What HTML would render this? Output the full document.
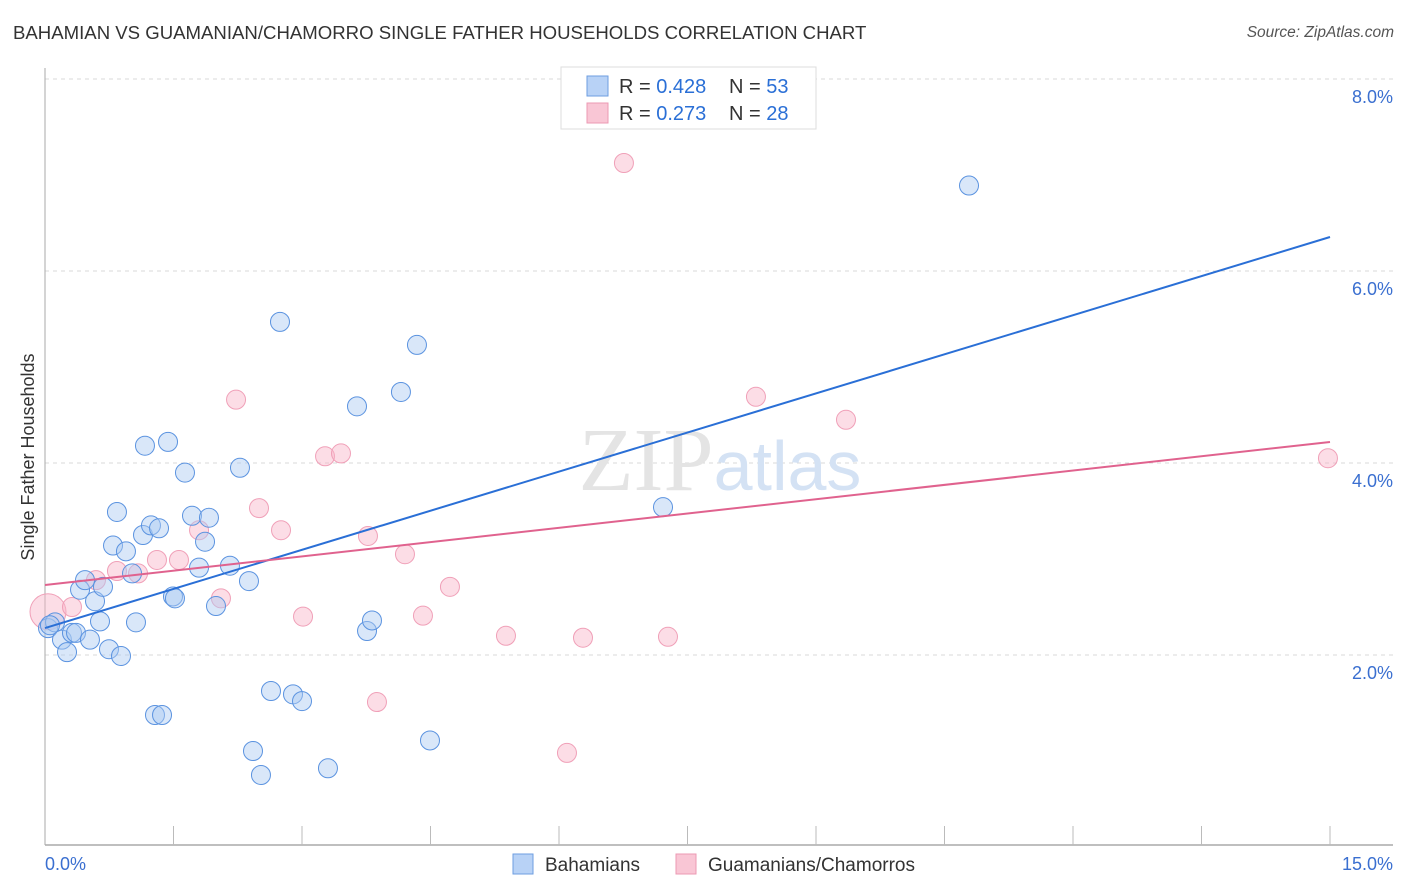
<!DOCTYPE html>
<html><head><meta charset="utf-8">
<style>
body{margin:0;background:#fff;font-family:"Liberation Sans",sans-serif;}
#wrap{position:relative;width:1406px;height:892px;overflow:hidden;}
.title{position:absolute;left:13px;top:22px;font-size:18.6px;color:#333;white-space:nowrap;}
.source{position:absolute;right:12px;top:24px;font-size:15.5px;color:#555;font-style:italic;}
</style></head><body>
<div id="wrap">
<div class="title">BAHAMIAN VS GUAMANIAN/CHAMORRO SINGLE FATHER HOUSEHOLDS CORRELATION CHART</div>
<div class="source">Source: ZipAtlas.com</div>
<svg id="svg" width="1406" height="892" style="position:absolute;left:0;top:0"></svg>
</div>
<script>
const xTicks=[0,15];
const yTicks=[2,4,6,8];
const blueX=[0.035,0.117,0.198,0.257,0.315,0.362,0.409,0.467,0.525,0.584,0.642,0.677,0.747,0.794,0.840,0.887,0.945,1.016,1.062,1.144,1.167,1.237,1.284,1.331,1.366,1.436,1.494,1.517,1.634,1.716,1.798,1.868,1.914,1.996,2.159,2.276,2.381,2.428,2.521,2.638,2.743,2.895,3.000,3.303,3.642,3.759,3.817,4.155,4.342,4.494,7.214,10.786,0.058];
const blueY=[2.28,2.34,2.16,2.03,2.23,2.23,2.68,2.78,2.16,2.56,2.35,2.71,2.06,3.14,3.49,1.99,3.08,2.85,2.34,3.25,4.18,3.35,1.375,3.32,1.375,4.22,2.61,2.59,3.90,3.45,2.91,3.18,3.43,2.51,2.93,3.95,2.77,1.00,0.75,1.625,5.47,1.59,1.52,0.82,4.59,2.25,2.36,4.74,5.23,1.11,3.54,6.89,2.31];
const pinkX=[0.035,0.315,0.595,0.840,1.086,1.307,1.564,1.798,2.054,2.230,2.498,2.755,3.012,3.269,3.455,3.770,3.875,4.202,4.412,4.727,5.381,6.093,6.280,6.758,7.272,8.299,9.350,14.976];
const pinkY=[2.45,2.50,2.78,2.875,2.85,2.99,2.99,3.30,2.59,4.66,3.53,3.30,2.40,4.07,4.10,3.24,1.51,3.05,2.41,2.71,2.20,0.98,2.18,7.125,2.19,4.69,4.45,4.05];
const blueTrend=[2.281,6.354];
const pinkTrend=[2.729,4.219];

const NS="http://www.w3.org/2000/svg";
const svg=document.getElementById('svg');
const X=v=>45+v*85.667;
const Y=v=>847-v*96;
function mk(tag,attrs,parent){const e=document.createElementNS(NS,tag);for(const k in attrs)e.setAttribute(k,attrs[k]);(parent||svg).appendChild(e);return e;}

yTicks.forEach(t=>{
  const g=mk('line',{x1:45,x2:1393,y1:Y(t),y2:Y(t),stroke:'#d8d8d8','stroke-dasharray':'4,4','stroke-width':1});
  
  
  const l=mk('text',{x:1393,y:Y(t)+24,'text-anchor':'end','font-size':18,fill:'#3a6fd0','font-family':'Liberation Sans, sans-serif'});
  l.textContent=t.toFixed(1)+'%';
  
  
});
const ya=mk('line',{x1:45,x2:45,y1:68,y2:845,stroke:'#aaa','stroke-width':1});


const xa=mk('line',{x1:45,x2:1393,y1:845,y2:845,stroke:'#aaa','stroke-width':1.5});


for(let i=1;i<=10;i++){
  const t=mk('line',{x1:X(i*1.5),x2:X(i*1.5),y1:826,y2:845,stroke:'#bbb','stroke-width':1});
  
  
}
xTicks.forEach((t,i)=>{
  const l=mk('text',{x:i==0?45:1393,y:870,'text-anchor':i==0?'start':'end','font-size':18,fill:'#3a6fd0','font-family':'Liberation Sans, sans-serif'});
  l.textContent=t.toFixed(1)+'%';
  
  
});
const yt=mk('text',{x:34,y:457,transform:'rotate(-90 34 457)','text-anchor':'middle','font-size':18,fill:'#333','font-family':'Liberation Sans, sans-serif'});
yt.textContent='Single Father Households';


const wm=mk('text',{x:720,y:490,'text-anchor':'middle','font-size':90,fill:'#e4e4e4','font-family':'Liberation Serif, serif'});
wm.innerHTML='ZIP<tspan font-family="Liberation Sans, sans-serif" font-size="70" fill="#d4e2f4">atlas</tspan>';



pinkX.forEach((x,i)=>{
  const c=mk('circle',{cx:X(x),cy:Y(pinkY[i]),r:i==0?18:9.5,fill:'rgba(248,180,200,0.45)',stroke:'#f0a0b8','stroke-width':1});
  
  
});
blueX.forEach((x,i)=>{
  const c=mk('circle',{cx:X(x),cy:Y(blueY[i]),r:9.5,fill:'rgba(170,202,242,0.45)',stroke:'#5b93e0','stroke-width':1});
  
  
});
const tb=mk('line',{x1:X(0),y1:Y(blueTrend[0]),x2:X(15),y2:Y(blueTrend[1]),stroke:'#2a6fd6','stroke-width':2});


const tp=mk('line',{x1:X(0),y1:Y(pinkTrend[0]),x2:X(15),y2:Y(pinkTrend[1]),stroke:'#e0628e','stroke-width':2});



const lg=mk('g',{});


mk('rect',{x:561,y:67,width:255,height:62,fill:'#fff',stroke:'#ddd'},lg);
[['#b8d2f6','#6e9ee0','0.428','53',86],['#f9c6d5','#ec99b3','0.273','28',113]].forEach(r=>{
  mk('rect',{x:587,y:r[4]-10,width:21,height:20,fill:r[0],stroke:r[1]},lg);
  const t=mk('text',{x:619,y:r[4]+7,'font-size':20,fill:'#333','font-family':'Liberation Sans, sans-serif'},lg);
  t.innerHTML='R = <tspan fill="#2a6fd6">'+r[2]+'</tspan>  <tspan x="729">N = </tspan><tspan fill="#2a6fd6">'+r[3]+'</tspan>';
});
[['#b8d2f6','#6e9ee0','Bahamians',513,'legend-bahamians'],['#f9c6d5','#ec99b3','Guamanians/Chamorros',676,'legend-guamanians']].forEach(r=>{
  const g=mk('g',{});
  
  
  mk('rect',{x:r[3],y:854,width:20,height:20,fill:r[0],stroke:r[1]},g);
  const t=mk('text',{x:r[3]+32,y:871,'font-size':19,fill:'#333','font-family':'Liberation Sans, sans-serif'},g);
  t.textContent=r[2];
});
</script>
</body></html>
